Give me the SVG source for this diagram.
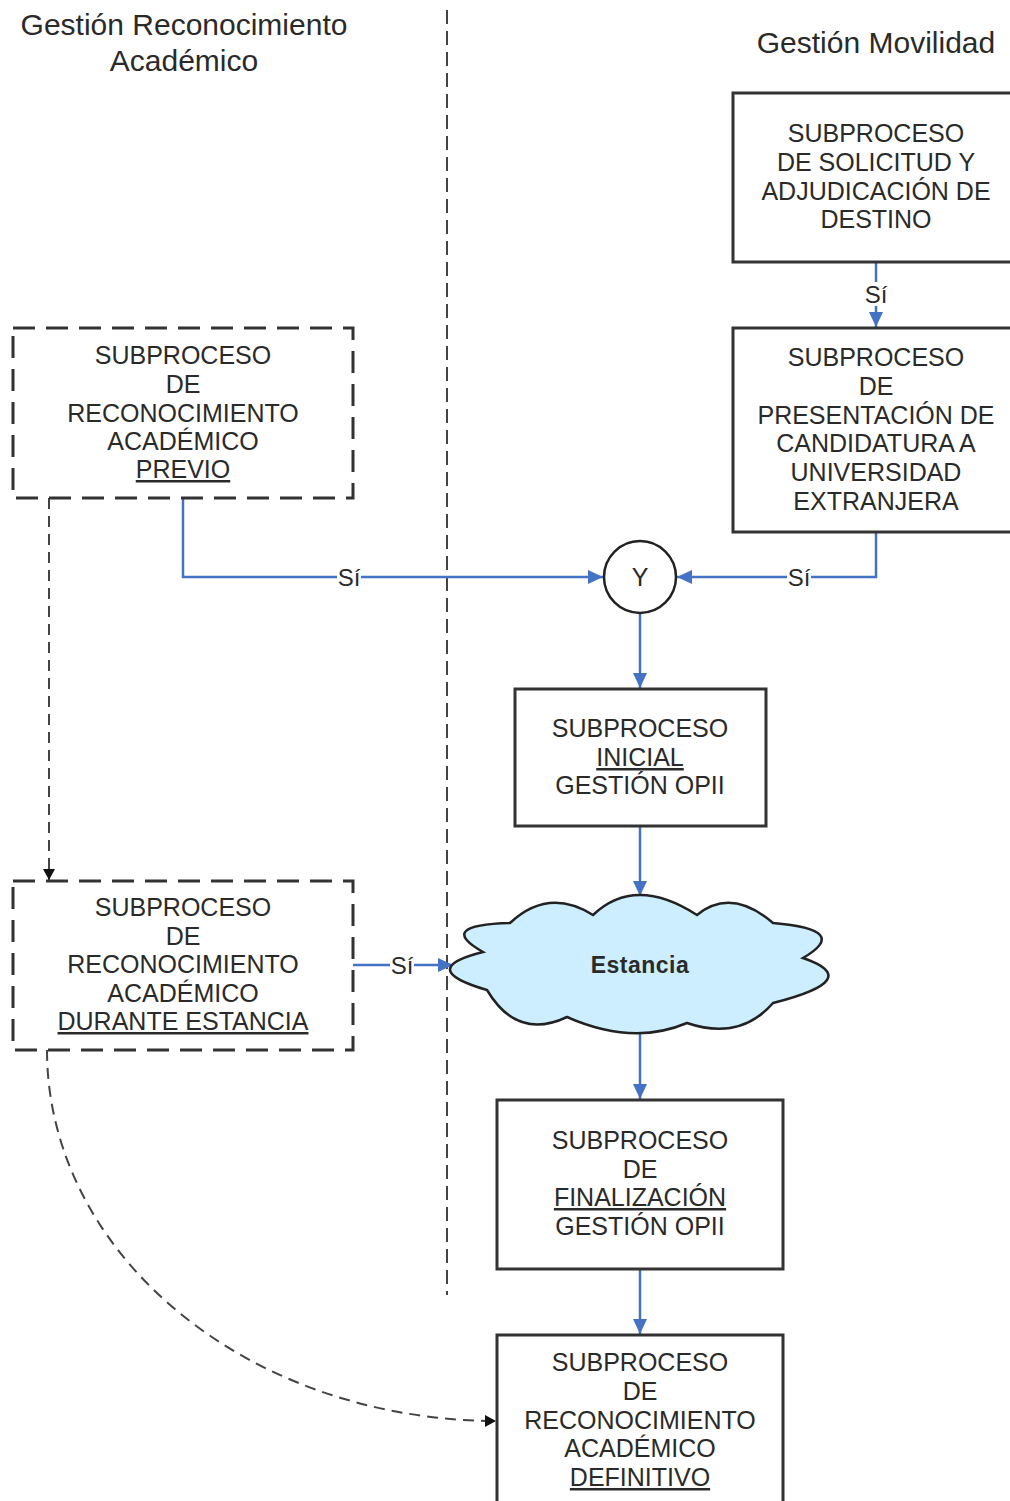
<svg xmlns="http://www.w3.org/2000/svg" width="1010" height="1501" viewBox="0 0 1010 1501">
<defs>
<style>
text{font-family:"Liberation Sans",Arial,sans-serif;fill:#2a2a2a;text-anchor:middle}
.t{font-size:25px}
.h{font-size:30px}
.u{text-decoration:underline}
.box{fill:#fff;stroke:#333;stroke-width:3}
.dbox{fill:#fff;stroke:#333;stroke-width:3;stroke-dasharray:22 11}
.c{fill:none;stroke:#4472C4;stroke-width:2.5}
.dc{fill:none;stroke:#444;stroke-width:2;stroke-dasharray:11 7}
.lbl{font-size:24px}
</style>
<marker id="ab" markerUnits="userSpaceOnUse" markerWidth="16" markerHeight="14" refX="15" refY="7" orient="auto">
<path d="M0,0 L15,7 L0,14 z" fill="#4472C4"/>
</marker>
<marker id="ak" markerUnits="userSpaceOnUse" markerWidth="12" markerHeight="12" refX="11" refY="6" orient="auto">
<path d="M0,0 L11,6 L0,12 z" fill="#111"/>
</marker>
</defs>
<rect width="1010" height="1501" fill="#fff"/>

<g id="lanes">
<text class="h" x="184" y="35">Gestión Reconocimiento</text>
<text class="h" x="184" y="71">Académico</text>
<text class="h" x="876" y="53">Gestión Movilidad</text>
<line x1="447" y1="10" x2="447" y2="1295" stroke="#444" stroke-width="2" stroke-dasharray="14 7"/>
</g>

<g id="connectors">
<line class="c" x1="876" y1="262" x2="876" y2="327" marker-end="url(#ab)"/>
<rect x="864" y="282" width="24" height="24" fill="#fff"/>
<text class="lbl" x="876" y="303">Sí</text>

<polyline class="c" points="876,532 876,577 677,577" marker-end="url(#ab)"/>
<rect x="787" y="565" width="24" height="24" fill="#fff"/>
<text class="lbl" x="799" y="586">Sí</text>

<polyline class="c" points="183,498 183,577 603,577" marker-end="url(#ab)"/>
<rect x="337" y="565" width="24" height="24" fill="#fff"/>
<text class="lbl" x="349" y="586">Sí</text>

<line class="c" x1="640" y1="613" x2="640" y2="688" marker-end="url(#ab)"/>
<line class="c" x1="640" y1="826" x2="640" y2="896" marker-end="url(#ab)"/>

<line class="c" x1="353" y1="965" x2="453" y2="965" marker-end="url(#ab)"/>
<rect x="390" y="953" width="24" height="24" fill="#fff"/>
<text class="lbl" x="402" y="974">Sí</text>

<line class="c" x1="640" y1="1033" x2="640" y2="1099" marker-end="url(#ab)"/>
<line class="c" x1="640" y1="1269" x2="640" y2="1334" marker-end="url(#ab)"/>

<line class="dc" x1="49" y1="498" x2="49" y2="880" marker-end="url(#ak)"/>
<path class="dc" d="M47,1050 A450,371 0 0 0 496,1421" marker-end="url(#ak)"/>
</g>

<g id="n-solicitud">
<rect class="box" x="733" y="93" width="290" height="169"/>
<text class="t" x="876" y="142">SUBPROCESO</text>
<text class="t" x="876" y="171">DE SOLICITUD Y</text>
<text class="t" x="876" y="200">ADJUDICACIÓN DE</text>
<text class="t" x="876" y="228">DESTINO</text>
</g>

<g id="n-presentacion">
<rect class="box" x="733" y="328" width="290" height="204"/>
<text class="t" x="876" y="366">SUBPROCESO</text>
<text class="t" x="876" y="395">DE</text>
<text class="t" x="876" y="424">PRESENTACIÓN DE</text>
<text class="t" x="876" y="452">CANDIDATURA A</text>
<text class="t" x="876" y="481">UNIVERSIDAD</text>
<text class="t" x="876" y="510">EXTRANJERA</text>
</g>

<g id="n-previo">
<rect class="dbox" x="13" y="328" width="340" height="170"/>
<text class="t" x="183" y="364">SUBPROCESO</text>
<text class="t" x="183" y="393">DE</text>
<text class="t" x="183" y="422">RECONOCIMIENTO</text>
<text class="t" x="183" y="450">ACADÉMICO</text>
<text class="t u" x="183" y="478">PREVIO</text>
</g>

<g id="n-y">
<circle cx="640" cy="577" r="36" fill="#fff" stroke="#222" stroke-width="2.5"/>
<text class="t" x="640" y="586">Y</text>
</g>

<g id="n-inicial">
<rect class="box" x="515" y="689" width="251" height="137"/>
<text class="t" x="640" y="737">SUBPROCESO</text>
<text class="t u" x="640" y="766">INICIAL</text>
<text class="t" x="640" y="794">GESTIÓN OPII</text>
</g>

<g id="n-estancia">
<path d="M483,952 Q435,925 510,923 Q548.5,887 593,915 Q635,875 697,915 Q731,887 773,923 Q852,929.5 803,958 Q866,979.5 773,1003 Q740,1041 687,1023 Q633,1046 567,1017 Q517,1040.5 487,990 Q415,969 483,952 Z" fill="#CCEEFF" stroke="#222" stroke-width="2.5"/>
<text x="640" y="973" font-size="23" font-weight="bold" letter-spacing="0.5" fill="#111">Estancia</text>
</g>

<g id="n-durante">
<rect class="dbox" x="13" y="881" width="340" height="169"/>
<text class="t" x="183" y="916">SUBPROCESO</text>
<text class="t" x="183" y="945">DE</text>
<text class="t" x="183" y="973">RECONOCIMIENTO</text>
<text class="t" x="183" y="1002">ACADÉMICO</text>
<text class="t u" x="183" y="1030">DURANTE ESTANCIA</text>
</g>

<g id="n-finalizacion">
<rect class="box" x="497" y="1100" width="286" height="169"/>
<text class="t" x="640" y="1149">SUBPROCESO</text>
<text class="t" x="640" y="1178">DE</text>
<text class="t u" x="640" y="1206">FINALIZACIÓN</text>
<text class="t" x="640" y="1235">GESTIÓN OPII</text>
</g>

<g id="n-definitivo">
<rect class="box" x="497" y="1335" width="286" height="180"/>
<text class="t" x="640" y="1371">SUBPROCESO</text>
<text class="t" x="640" y="1400">DE</text>
<text class="t" x="640" y="1429">RECONOCIMIENTO</text>
<text class="t" x="640" y="1457">ACADÉMICO</text>
<text class="t u" x="640" y="1486">DEFINITIVO</text>
</g>
</svg>
